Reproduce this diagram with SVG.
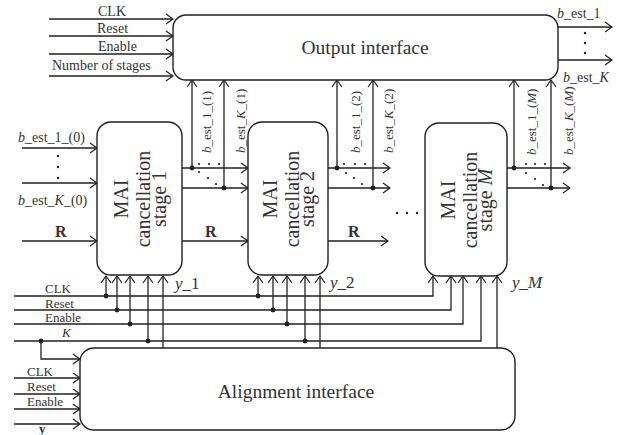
<svg xmlns="http://www.w3.org/2000/svg" width="623" height="435" viewBox="0 0 623 435">
<defs>
<marker id="ar" viewBox="-9 -6 10 12" markerWidth="10" markerHeight="12" refX="0" refY="0" orient="auto" markerUnits="userSpaceOnUse">
<path d="M-7,-5 L0,0 L-7,5" fill="none" stroke="#231f20" stroke-width="1.2"/>
</marker>
<style>
.l{fill:none;stroke:#231f20;stroke-width:1.3}
.a{marker-end:url(#ar)}
.box{fill:#fff;stroke:#231f20;stroke-width:1.4}
.t{font-family:"Liberation Serif","Times New Roman",serif;fill:#333}
.s13{font-size:13px}
.s14{font-size:14px}
.big{font-size:19.5px}
.st{font-size:20px;text-anchor:middle}
.i{font-style:italic}
.b{font-weight:bold}
.dot{fill:#231f20}
</style>
</defs>

<g id="connectors">
  <!-- inputs to output interface -->
  <path class="l a" d="M49,19 H173"/>
  <path class="l a" d="M49,36 H173"/>
  <path class="l a" d="M49,54 H173"/>
  <path class="l a" d="M49,76 H173"/>
  <!-- outputs of output interface -->
  <path class="l a" d="M558,27 H612"/>
  <path class="l a" d="M558,60 H612"/>
  <!-- stage 1 inputs -->
  <path class="l a" d="M22,148 H97"/>
  <path class="l a" d="M22,183 H97"/>
  <path class="l a" d="M22,241 H97"/>
  <!-- stage 1 outputs -->
  <path class="l a" d="M182,168 H248"/>
  <path class="l a" d="M182,188 H248"/>
  <path class="l a" d="M182,241 H248"/>
  <path class="l a" d="M192,168 V80"/>
  <path class="l a" d="M224,188 V80"/>
  <!-- stage 2 outputs -->
  <path class="l a" d="M328,168 H390"/>
  <path class="l a" d="M328,188 H390"/>
  <path class="l a" d="M328,241 H388"/>
  <path class="l a" d="M337,168 V80"/>
  <path class="l a" d="M373,188 V80"/>
  <!-- stage M outputs -->
  <path class="l a" d="M507,168 H570"/>
  <path class="l a" d="M507,188 H570"/>
  <path class="l a" d="M514,168 V80"/>
  <path class="l a" d="M551,188 V80"/>
  <!-- control buses -->
  <path class="l a" d="M14,296 H433 V276"/>
  <path class="l a" d="M14,310 H451 V276"/>
  <path class="l a" d="M14,324 H463 V276"/>
  <path class="l a" d="M14,341 H481 V276"/>
  <!-- stage 1 taps -->
  <path class="l a" d="M106,296 V276"/>
  <path class="l a" d="M117,310 V276"/>
  <path class="l a" d="M130,324 V276"/>
  <path class="l a" d="M148,341 V276"/>
  <path class="l a" d="M163,348 V276"/>
  <!-- stage 2 taps -->
  <path class="l a" d="M258,296 V276"/>
  <path class="l a" d="M273,310 V276"/>
  <path class="l a" d="M287,324 V276"/>
  <path class="l a" d="M305,341 V276"/>
  <path class="l a" d="M320,348 V276"/>
  <!-- stage M y -->
  <path class="l a" d="M497,348 V276"/>
  <!-- alignment inputs -->
  <path class="l a" d="M41,341 V359 H80"/>
  <path class="l a" d="M14,378 H80"/>
  <path class="l a" d="M14,394 H80"/>
  <path class="l a" d="M14,409 H80"/>
  <path class="l a" d="M14,424 H80"/>
  <!-- junction dots -->
  <circle class="dot" cx="192" cy="168" r="2.4"/>
  <circle class="dot" cx="224" cy="188" r="2.4"/>
  <circle class="dot" cx="337" cy="168" r="2.4"/>
  <circle class="dot" cx="373" cy="188" r="2.4"/>
  <circle class="dot" cx="514" cy="168" r="2.4"/>
  <circle class="dot" cx="551" cy="188" r="2.4"/>
  <circle class="dot" cx="106" cy="296" r="2.4"/>
  <circle class="dot" cx="117" cy="310" r="2.4"/>
  <circle class="dot" cx="130" cy="324" r="2.4"/>
  <circle class="dot" cx="148" cy="341" r="2.4"/>
  <circle class="dot" cx="258" cy="296" r="2.4"/>
  <circle class="dot" cx="273" cy="310" r="2.4"/>
  <circle class="dot" cx="287" cy="324" r="2.4"/>
  <circle class="dot" cx="305" cy="341" r="2.4"/>
  <circle class="dot" cx="41" cy="341" r="2.4"/>
  <!-- ellipsis dots -->
  <g class="dot">
    <circle cx="585" cy="33" r="1.2"/><circle cx="585" cy="43" r="1.2"/><circle cx="585" cy="53" r="1.2"/>
    <circle cx="58" cy="156" r="1.2"/><circle cx="58" cy="167" r="1.2"/><circle cx="58" cy="178" r="1.2"/>
    <circle cx="199" cy="164" r="1.1"/><circle cx="209" cy="164" r="1.1"/><circle cx="219" cy="164" r="1.1"/>
    <circle cx="199" cy="172" r="1.1"/><circle cx="208" cy="178" r="1.1"/><circle cx="216" cy="184" r="1.1"/>
    <circle cx="344" cy="164" r="1.1"/><circle cx="355" cy="164" r="1.1"/><circle cx="365" cy="164" r="1.1"/>
    <circle cx="346" cy="173" r="1.1"/><circle cx="354" cy="178" r="1.1"/><circle cx="362" cy="184" r="1.1"/>
    <circle cx="526" cy="164" r="1.1"/><circle cx="535" cy="164" r="1.1"/><circle cx="545" cy="164" r="1.1"/>
    <circle cx="526" cy="173" r="1.1"/><circle cx="535" cy="179" r="1.1"/><circle cx="543" cy="185" r="1.1"/>
    <circle cx="397" cy="213" r="1.2"/><circle cx="407" cy="213" r="1.2"/><circle cx="417" cy="213" r="1.2"/>
  </g>
</g>

<g id="output-interface">
  <rect class="box" x="173" y="15" width="385" height="65" rx="13"/>
  <text class="t big" x="365" y="54" text-anchor="middle">Output interface</text>
</g>

<g id="stage-1">
  <rect class="box" x="97" y="122" width="85" height="153" rx="14"/>
  <g transform="translate(139.5,199) rotate(-90)">
    <text class="t st" x="0" y="-11.5">MAI</text>
    <text class="t st" x="0" y="10.5">cancellation</text>
    <text class="t st" x="0" y="26">stage 1</text>
  </g>
</g>

<g id="stage-2">
  <rect class="box" x="248" y="122" width="80" height="153" rx="14"/>
  <g transform="translate(288,199) rotate(-90)">
    <text class="t st" x="0" y="-11.5">MAI</text>
    <text class="t st" x="0" y="10.5">cancellation</text>
    <text class="t st" x="0" y="26">stage 2</text>
  </g>
</g>

<g id="stage-M">
  <rect class="box" x="425" y="123" width="82" height="153" rx="14"/>
  <g transform="translate(466,200) rotate(-90)">
    <text class="t st" x="0" y="-11.5">MAI</text>
    <text class="t st" x="0" y="10.5">cancellation</text>
    <text class="t st" x="0" y="26">stage <tspan class="i">M</tspan></text>
  </g>
</g>

<g id="alignment-interface">
  <rect class="box" x="80" y="348" width="435" height="82" rx="14"/>
  <text class="t big" x="296" y="398" text-anchor="middle">Alignment interface</text>
</g>

<g id="labels">
  <text class="t s14" x="98" y="16">CLK</text>
  <text class="t s14" x="97" y="33">Reset</text>
  <text class="t s14" x="98" y="51">Enable</text>
  <text class="t s14" x="52" y="70">Number of stages</text>

  <text class="t s14" x="557" y="18"><tspan class="i">b</tspan>_est_1</text>
  <text class="t s14" x="563" y="82"><tspan class="i">b</tspan>_est_<tspan class="i">K</tspan></text>

  <text class="t s14" x="18" y="142"><tspan class="i">b</tspan>_est_1_(0)</text>
  <text class="t s14" x="18" y="205"><tspan class="i">b</tspan>_est_<tspan class="i">K</tspan>_(0)</text>

  <text class="t b" font-size="16" x="55" y="237">R</text>
  <text class="t b" font-size="16" x="205" y="237">R</text>
  <text class="t b" font-size="16" x="348" y="237">R</text>

  <text class="t s13" transform="translate(211,153) rotate(-90)"><tspan class="i">b</tspan>_est_1_(1)</text>
  <text class="t s13" transform="translate(245,153) rotate(-90)"><tspan class="i">b</tspan>_est_<tspan class="i">K</tspan>_(1)</text>
  <text class="t s13" transform="translate(360,153) rotate(-90)"><tspan class="i">b</tspan>_est_1_(2)</text>
  <text class="t s13" transform="translate(393,153) rotate(-90)"><tspan class="i">b</tspan>_est_<tspan class="i">K</tspan>_(2)</text>
  <text class="t s13" transform="translate(536,155) rotate(-90)"><tspan class="i">b</tspan>_est_1_(<tspan class="i">M</tspan>)</text>
  <text class="t s13" transform="translate(573,155) rotate(-90)"><tspan class="i">b</tspan>_est_<tspan class="i">K</tspan>_(<tspan class="i">M</tspan>)</text>

  <text class="t" font-size="17" x="175" y="289"><tspan class="i">y</tspan>_1</text>
  <text class="t" font-size="17" x="330" y="288"><tspan class="i">y</tspan>_2</text>
  <text class="t" font-size="17" x="512" y="288"><tspan class="i">y</tspan>_<tspan class="i">M</tspan></text>

  <text class="t s13" x="45" y="293">CLK</text>
  <text class="t s13" x="45" y="308">Reset</text>
  <text class="t s13" x="45" y="322">Enable</text>
  <text class="t s13 i" x="62" y="337">K</text>

  <text class="t s13" x="27" y="376">CLK</text>
  <text class="t s13" x="27" y="391">Reset</text>
  <text class="t s13" x="27" y="406">Enable</text>
  <text class="t s13 b" x="39" y="433">y</text>
</g>
</svg>
